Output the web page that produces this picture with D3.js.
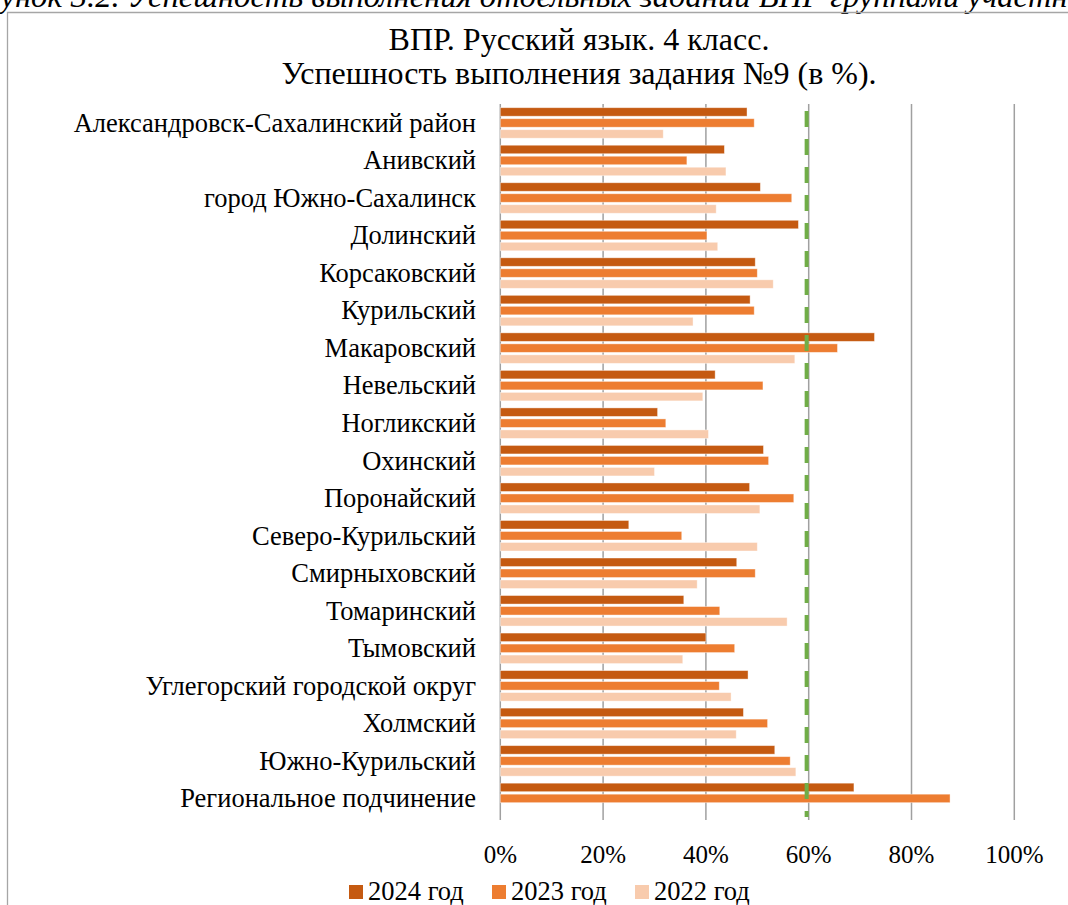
<!DOCTYPE html>
<html>
<head>
<meta charset="utf-8">
<script src="https://cdn.jsdelivr.net/npm/d3@7"></script>
<style>
  html, body { margin: 0; padding: 0; background: #fff; }
  svg { display: block; }
  text { font-family: "Liberation Serif", "Times New Roman", serif; fill: #000; }
</style>
</head>
<body>
<svg id="chart" width="1068" height="905"></svg>
<script>
const categories = [
  "Александровск-Сахалинский район",
  "Анивский",
  "город Южно-Сахалинск",
  "Долинский",
  "Корсаковский",
  "Курильский",
  "Макаровский",
  "Невельский",
  "Ногликский",
  "Охинский",
  "Поронайский",
  "Северо-Курильский",
  "Смирныховский",
  "Томаринский",
  "Тымовский",
  "Углегорский городской округ",
  "Холмский",
  "Южно-Курильский",
  "Региональное подчинение"
];
const seriesNames = ["2024 год", "2023 год", "2022 год"];
const values2024 = [48.0, 43.6, 50.6, 58.0, 49.6, 48.6, 72.8, 41.8, 30.6, 51.2, 48.5, 25.0, 46.0, 35.7, 40.0, 48.2, 47.3, 53.4, 68.8];
const values2023 = [49.4, 36.3, 56.7, 40.2, 50.0, 49.4, 65.6, 51.1, 32.2, 52.2, 57.1, 35.3, 49.6, 42.7, 45.6, 42.6, 52.0, 56.4, 87.5];
const values2022 = [31.7, 43.9, 42.0, 42.3, 53.1, 37.5, 57.3, 39.4, 40.5, 30.0, 50.5, 50.0, 38.3, 55.8, 35.5, 44.9, 45.9, 57.5, null];
const benchmark = 59.6;
const xTicks = [0, 20, 40, 60, 80, 100];
const titleLines = ["ВПР. Русский язык. 4 класс.", "Успешность выполнения задания №9 (в %)."];
const captionText = "Рисунок 3.2. Успешность выполнения отдельных заданий ВПР группами участников";
const colors = ["#c55a11", "#ed7d31", "#f8cbad"];

const seriesValues = [values2024, values2023, values2022];
const svg = d3.select("#chart");

// caption (cut off at top, as in the source page)
svg.append("text")
  .attr("x", -50).attr("y", 7)
  .attr("font-size", 32.6).attr("font-style", "italic")
  .text(captionText);

// chart border
svg.append("path")
  .attr("d", "M7.5,905 L7.5,12.5 L1068,12.5")
  .attr("fill", "none").attr("stroke", "#a6a6a6").attr("stroke-width", 1.3);

// title
svg.append("g").selectAll("text").data(titleLines).join("text")
  .attr("x", 579).attr("y", (d, i) => 50 + i * 34)
  .attr("text-anchor", "middle").attr("font-size", 32)
  .text(d => d);

const x = d3.scaleLinear().domain([0, 100]).range([500.3, 1014.3]);
const y = d3.scaleBand().domain(categories).range([104, 817]);
const sub = d3.scaleBand().domain(seriesNames).range([3.7, 34.2]).paddingInner(0.227);

// gridlines
svg.append("g").selectAll("line").data(xTicks).join("line")
  .attr("x1", d => x(d)).attr("x2", d => x(d))
  .attr("y1", 104).attr("y2", 820)
  .attr("stroke", "#a0a0a0").attr("stroke-width", 1.5);

// bars
const rows = categories.map((c, i) => ({ c, vals: seriesNames.map((s, k) => ({ s, k, v: seriesValues[k][i] })) }));
const g = svg.append("g").selectAll("g").data(rows).join("g")
  .attr("transform", d => `translate(0,${y(d.c)})`);
g.selectAll("rect").data(d => d.vals.filter(v => v.v != null)).join("rect")
  .attr("x", x(0)).attr("y", d => sub(d.s))
  .attr("width", d => x(d.v) - x(0)).attr("height", sub.bandwidth())
  .attr("fill", d => colors[d.k])
  .attr("stroke", "#fff").attr("stroke-opacity", 0.5).attr("stroke-width", 0.8);

// benchmark dashed line
svg.append("line")
  .attr("x1", x(benchmark)).attr("x2", x(benchmark))
  .attr("y1", 111).attr("y2", 817)
  .attr("stroke", "#70ad47").attr("stroke-width", 4)
  .attr("stroke-dasharray", "16,12");

// category labels
svg.append("g").selectAll("text").data(categories).join("text")
  .attr("x", 476).attr("y", d => y(d) + y.bandwidth() / 2 + 9)
  .attr("text-anchor", "end").attr("font-size", 26.5)
  .text(d => d);

// x tick labels
svg.append("g").selectAll("text").data(xTicks).join("text")
  .attr("x", d => x(d)).attr("y", 863)
  .attr("text-anchor", "middle").attr("font-size", 25)
  .text(d => d + "%");

// legend
const legendX = [349, 492, 635];
const lg = svg.append("g").selectAll("g").data(seriesNames).join("g")
  .attr("transform", (d, i) => `translate(${legendX[i]},885)`);
lg.append("rect").attr("width", 14).attr("height", 14).attr("fill", (d, i) => colors[i]);
lg.append("text").attr("x", 19).attr("y", 15).attr("font-size", 26.5).text(d => d);
</script>
</body>
</html>
